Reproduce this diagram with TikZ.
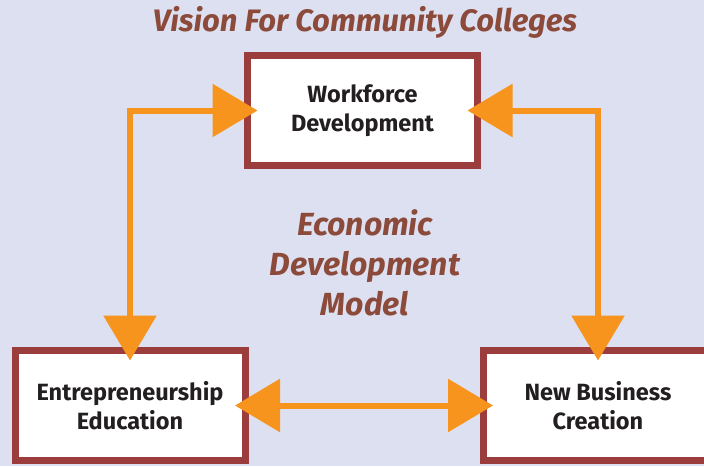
\documentclass[tikz,border=0pt]{standalone}
\usepackage{fontspec}
\setmainfont{Fira Sans}
\usetikzlibrary{arrows.meta}
\definecolor{bgcol}{HTML}{DDE0F0}
\definecolor{boxred}{HTML}{9B3D3D}
\definecolor{arrorange}{HTML}{F7941D}
\definecolor{titlebrown}{HTML}{8C4A3B}
\definecolor{boxtext}{HTML}{231F20}
\begin{document}
\begin{tikzpicture}[x=1pt, y=-1pt,
    box/.style={draw=boxred, fill=white, line width=7pt, outer sep=0pt,
      minimum width=230pt, minimum height=110pt, align=center,
      text=boxtext, font=\fontsize{23.5}{28.5}\selectfont\bfseries},
    link/.style={arrorange, line width=6pt,
      {Triangle[length=45pt,width=52pt]}-{Triangle[length=45pt,width=52pt]},
      shorten <=-10pt, shorten >=-10pt},
    heading/.style={text=titlebrown, align=center,
      font=\fontsize{31}{40}\selectfont\bfseries\itshape}]

  \useasboundingbox (0,0) rectangle (704,466);
  \clip (0,0) rectangle (704,466);
  \fill[bgcol] (0,0) rectangle (704,466);

  \node[heading] (title) at (365,22) {Vision For Community Colleges};
  \node[heading, font=\fontsize{32}{40}\selectfont\bfseries\itshape]
    (model) at (365,263) {Economic\\Development\\Model};

  \node[box] (work) at (362.5,110.5) {Workforce\\Development};
  \node[box] (entr) at (130,405.5) {Entrepreneurship\\Education};
  \node[box] (newbiz) at (598,405.5) {New Business\\Creation};

  \draw[link] (work.west) -| (entr.north);
  \draw[link] (work.east) -| (newbiz.north);
  \draw[link] (entr.east) -- (newbiz.west);

\end{tikzpicture}
\end{document}
